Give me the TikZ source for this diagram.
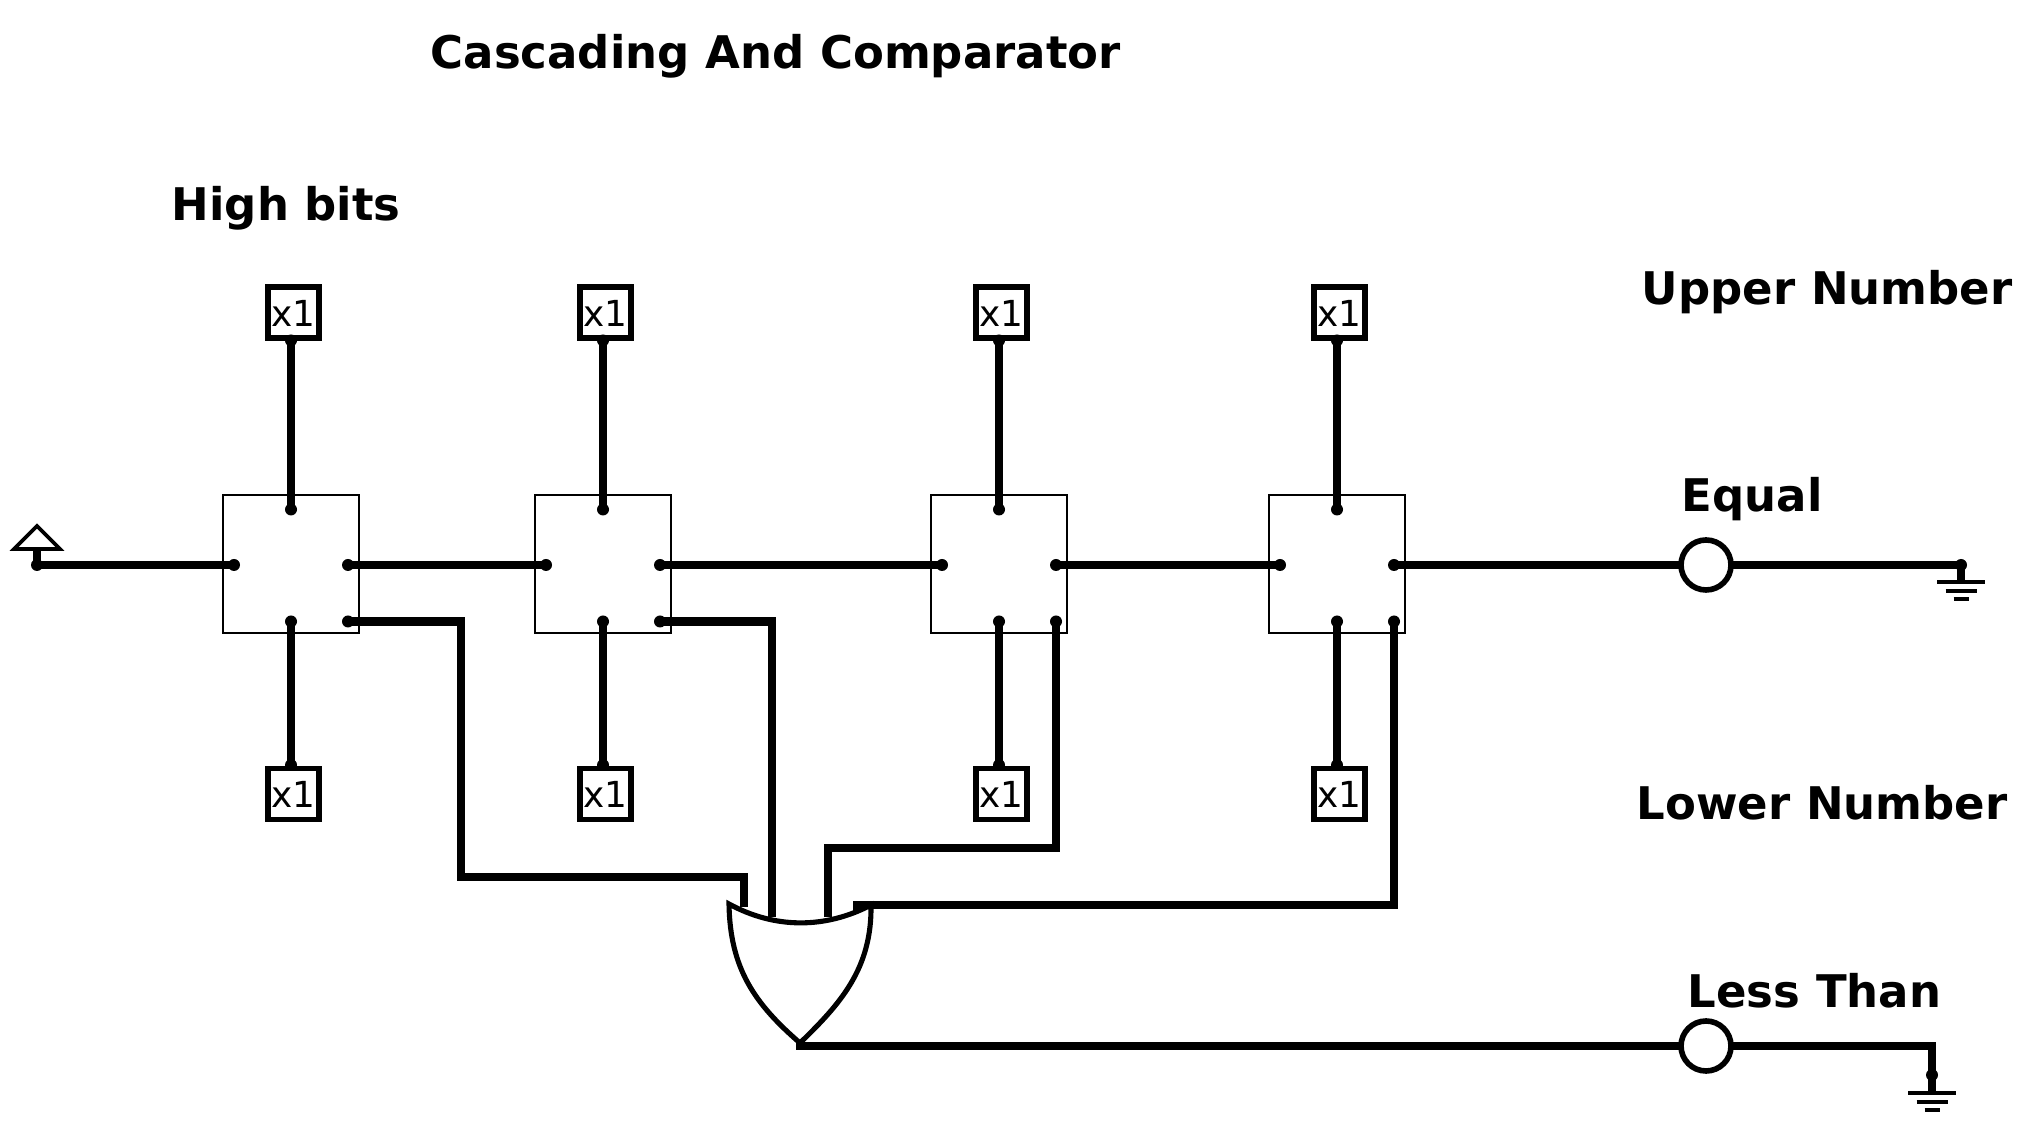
\documentclass[tikz,border=0pt]{standalone}
\usepackage{fontspec}
\setmainfont{DejaVu Sans}
\usetikzlibrary{positioning,calc}

\begin{document}
\begin{tikzpicture}[
  cell/.style={draw, line width=0.75pt, inner sep=0pt, outer sep=0pt,
    minimum width=1.36cm, minimum height=1.38cm},
  xone/.style={draw, line width=1.7pt, inner sep=0pt, outer sep=0pt,
    minimum width=0.51cm, minimum height=0.51cm, font=\fontsize{10.2}{12}\selectfont},
  wire/.style={line width=2.35pt},
  gateline/.style={line width=1.45pt, line join=miter},
  lamp/.style={draw, circle, fill=white, line width=1.6pt, inner sep=0pt,
    outer sep=0pt, minimum size=0.5cm},
  bar/.style={line width=0.9pt},
  heading/.style={anchor=base west, inner sep=0pt,
    font=\fontsize{12.8}{15}\selectfont\bfseries}
]
\useasboundingbox (0,0) rectangle (20.36,11.29);

\node[cell] (cellA) at (2.91,5.65) {};
\node[cell, right=1.76cm of cellA] (cellB) {};
\node[cell, right=2.6cm of cellB] (cellC) {};
\node[cell, right=2.02cm of cellC] (cellD) {};

\foreach \c in {A,B,C,D} {
  \node[xone, above=1.565cm of cell\c, xshift=0.025cm] (top\c) {x1};
  \node[xone, below=1.355cm of cell\c, xshift=0.025cm] (bot\c) {x1};
  \coordinate (n\c) at ($(cell\c)+(0,0.545)$);
  \coordinate (s\c) at ($(cell\c)+(0,-0.575)$);
  \coordinate (w\c) at ($(cell\c)+(-0.57,-0.01)$);
  \coordinate (e\c) at ($(cell\c)+(0.57,-0.01)$);
  \coordinate (o\c) at ($(cell\c)+(0.57,-0.575)$);
  \coordinate (tp\c) at ([yshift=-0.02cm]n\c |- top\c.south);
  \coordinate (bp\c) at ([yshift=0.035cm]s\c |- bot\c.north);
  \draw[wire] (n\c) -- (tp\c);
  \draw[wire] (s\c) -- (bp\c);
  \foreach \p in {n,s,w,e,o,tp,bp} \fill (\p\c) circle (0.06);
}

% supply side
\coordinate (vcc) at (0.37,5.64);
\coordinate (vcctop) at (0.37,5.8);
\coordinate (vccL) at (0.14,5.8);
\coordinate (vccR) at (0.6,5.8);
\coordinate (vccA) at (0.37,6.03);
\draw[wire] (vcctop) -- (vcc);
\fill (vcc) circle (0.06);
\draw[gateline, line width=1.05pt] (vccL) -- (vccA) -- (vccR) -- cycle;

% main chain
\node[lamp] (equal) at (17.06,5.64) {};
\node[lamp] (less) at (17.06,0.83) {};
\coordinate (gndA) at (19.61,5.47);
\coordinate (gndApin) at (19.61,5.64);
\coordinate (gndB) at (19.32,0.36);
\coordinate (gndBpin) at (19.32,0.54);
\draw[wire] (vcc) -- (wA);
\draw[wire] (eA) -- (wB);
\draw[wire] (eB) -- (wC);
\draw[wire] (eC) -- (wD);
\draw[wire] (eD) -- (equal);
\draw[wire] (equal) -- (gndApin) -- (gndA);
\fill (gndApin) circle (0.06);
\fill (gndBpin) circle (0.06);

% to the gate
\coordinate (orA) at (7.44,2.22);
\coordinate (orB) at (7.72,2.12);
\coordinate (orC) at (8.28,2.12);
\coordinate (orD) at (8.57,2.18);
\coordinate (orout) at (7.96,0.83);
\draw[wire] (oA) -| (4.61,2.52) -| (orA);
\draw[wire] (oB) -| (orB);
\draw[wire] (oC) |- (8.28,2.81) -- (orC);
\draw[wire] (oD) |- (8.57,2.24) -- (orD);

\draw[gateline, fill=white] (7.29,2.25) .. controls (7.75,2.0) and (8.25,2.0) .. (8.71,2.24)
  .. controls (8.72,1.6) and (8.4,1.25) .. (8,0.86)
  .. controls (7.55,1.25) and (7.3,1.6) .. (7.29,2.25) -- cycle;
\draw[wire] (orout) -- (less);
\draw[wire] (less) -| (gndB);

% grounds
\foreach \g in {gndA,gndB} {
  \draw[bar] ([xshift=-0.24cm]\g) -- ([xshift=0.24cm]\g);
  \draw[bar] ($(\g)+(-0.155,-0.09)$) -- ($(\g)+(0.155,-0.09)$);
  \draw[bar] ($(\g)+(-0.075,-0.17)$) -- ($(\g)+(0.075,-0.17)$);
}

\node[heading] (title) at (4.30,10.60) {Cascading And Comparator};
\node[heading] (high) at (1.71,9.08) {High bits};
\node[heading] (upper) at (16.41,8.24) {Upper Number};
\node[heading] (eqlabel) at (16.81,6.17) {Equal};
\node[heading] (lower) at (16.36,3.09) {Lower Number};
\node[heading] (ltlabel) at (16.87,1.22) {Less Than};
\end{tikzpicture}
\end{document}
